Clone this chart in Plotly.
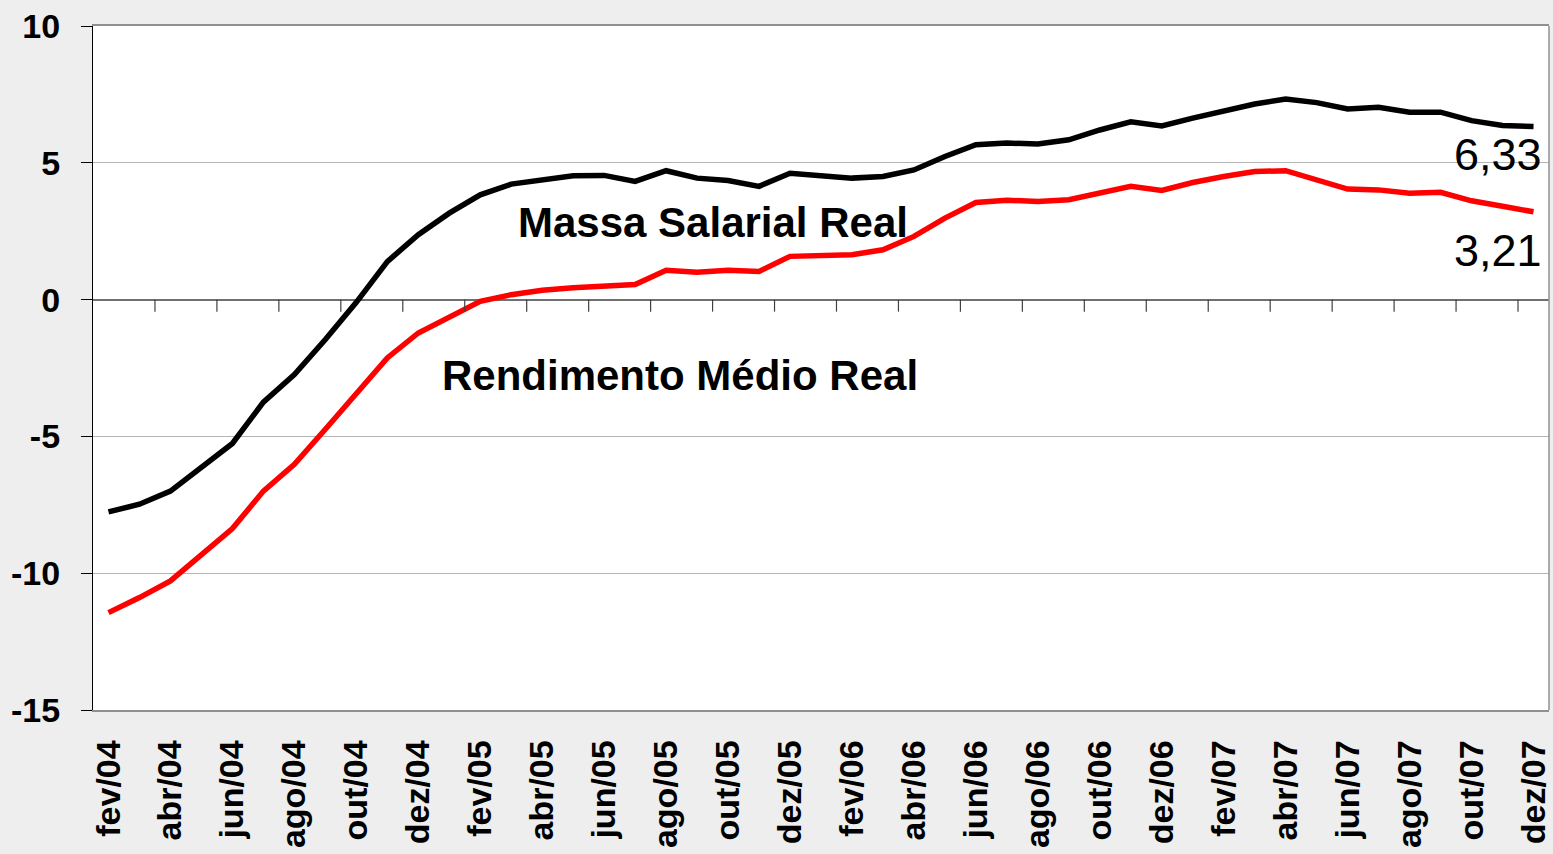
import plotly.graph_objects as go

months = ["jan", "fev", "mar", "abr", "mai", "jun", "jul", "ago", "set", "out", "nov", "dez"]
categories = []
for yr in ["04", "05", "06", "07"]:
    for m in months:
        categories.append(f"{m}/{yr}")
categories = categories[1:]  # fev/04 .. dez/07

massa_salarial = [
    -7.76, -7.48, -7.0, -6.13, -5.26, -3.75, -2.74, -1.46, -0.1, 1.39, 2.37, 3.16,
    3.83, 4.22, 4.38, 4.53, 4.54, 4.32, 4.71, 4.44, 4.35, 4.14, 4.62, 4.53,
    4.44, 4.5, 4.74, 5.23, 5.66, 5.72, 5.69, 5.84, 6.2, 6.5, 6.35, 6.63,
    6.87, 7.15, 7.33, 7.2, 6.97, 7.03, 6.85, 6.85, 6.54, 6.36, 6.33,
]
rendimento_medio = [
    -11.44, -10.89, -10.28, -9.31, -8.37, -7.0, -6.02, -4.74, -3.45, -2.13, -1.22, -0.66,
    -0.06, 0.18, 0.34, 0.43, 0.51, 0.55, 1.07, 1.0, 1.07, 1.03, 1.58, 1.61,
    1.64, 1.82, 2.31, 2.98, 3.55, 3.63, 3.59, 3.65, 3.92, 4.14, 3.99, 4.28,
    4.5, 4.68, 4.71, 4.38, 4.04, 4.01, 3.89, 3.92, 3.61, 3.41, 3.21,
]
y_ticks = [-15, -10, -5, 0, 5, 10]
y_ticktext = ["-15", "-10", "-5", "0", "5", "10"]

FONT = "Liberation Sans, Arial, sans-serif"
n = len(categories)
xs = list(range(n))

fig = go.Figure()
fig.add_trace(go.Scatter(x=xs, y=massa_salarial, mode="lines",
                         line=dict(color="#000000", width=5.5), name="Massa Salarial Real"))
fig.add_trace(go.Scatter(x=xs, y=rendimento_medio, mode="lines",
                         line=dict(color="#ff0000", width=5.5), name="Rendimento Médio Real"))

# tick marks along the zero line, between every two categories
shapes = []
for k in range(2, n, 2):
    shapes.append(dict(type="line", xref="x", yref="y", x0=k - 0.5, x1=k - 0.5,
                       y0=0, y1=-0.44, line=dict(color="#404040", width=1.2)))
# right border of the plot area
shapes.append(dict(type="line", xref="paper", yref="paper", x0=1, x1=1, y0=0, y1=1,
                   line=dict(color="#909090", width=1.5)))

annotations = [
    dict(x=19.5, y=2.8, xref="x", yref="y", text="<b>Massa Salarial Real</b>", showarrow=False,
         font=dict(family=FONT, size=42, color="#000000"), xanchor="center", yanchor="middle"),
    dict(x=18.45, y=-2.78, xref="x", yref="y", text="<b>Rendimento Médio Real</b>", showarrow=False,
         font=dict(family=FONT, size=42, color="#000000"), xanchor="center", yanchor="middle"),
    dict(x=46.35, y=5.3, xref="x", yref="y", text="6,33", showarrow=False,
         font=dict(family=FONT, size=45, color="#000000"), xanchor="right", yanchor="middle"),
    dict(x=46.35, y=1.8, xref="x", yref="y", text="3,21", showarrow=False,
         font=dict(family=FONT, size=45, color="#000000"), xanchor="right", yanchor="middle"),
]

fig.update_layout(
    width=1553, height=854,
    margin=dict(l=93, r=4, t=26, b=144),
    paper_bgcolor="#eeeeee",
    plot_bgcolor="#ffffff",
    showlegend=False,
    shapes=shapes,
    annotations=annotations,
    xaxis=dict(
        range=[-0.5, n - 0.5],
        tickmode="array",
        tickvals=xs[::2],
        ticktext=categories[::2],
        tickangle=-90,
        ticks="",
        ticklabelstandoff=15,
        tickfont=dict(family=FONT, size=34, color="#000000", weight="bold"),
        showgrid=False,
        zeroline=False,
        showline=True, linecolor="#909090", linewidth=1.5, mirror=True,
        automargin=False,
    ),
    yaxis=dict(
        range=[-15, 10],
        tickmode="array",
        tickvals=y_ticks,
        ticktext=y_ticktext,
        ticks="outside", ticklen=11, tickcolor="#000000", tickwidth=1,
        ticklabelstandoff=14,
        tickfont=dict(family=FONT, size=34, color="#000000", weight="bold"),
        showgrid=True, gridcolor="#b4b4b4", gridwidth=1,
        zeroline=True, zerolinecolor="#707070", zerolinewidth=1.5,
        showline=True, linecolor="#000000", linewidth=1.2,
        automargin=False,
    ),
)

fig.write_html("out.html", config={"displayModeBar": False},
               post_script="document.body.style.margin='0';document.body.style.overflow='hidden';")
